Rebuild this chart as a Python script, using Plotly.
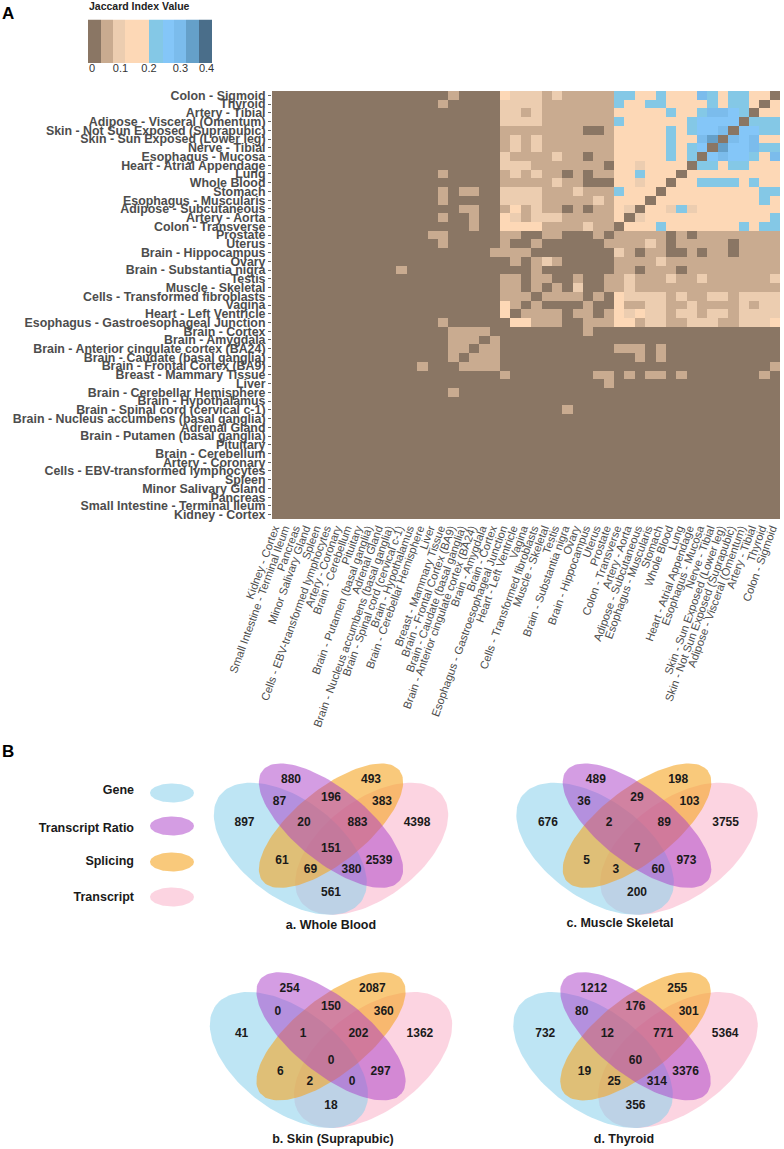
import numpy as np
import plotly.graph_objects as go

W, H = 784, 1149
FONT = "Liberation Sans"

TISSUES = [
    "Colon - Sigmoid", "Thyroid", "Artery - Tibial", "Adipose - Visceral (Omentum)",
    "Skin - Not Sun Exposed (Suprapubic)", "Skin - Sun Exposed (Lower leg)", "Nerve - Tibial",
    "Esophagus - Mucosa", "Heart - Atrial Appendage", "Lung", "Whole Blood", "Stomach",
    "Esophagus - Muscularis", "Adipose - Subcutaneous", "Artery - Aorta", "Colon - Transverse",
    "Prostate", "Uterus", "Brain - Hippocampus", "Ovary", "Brain - Substantia nigra", "Testis",
    "Muscle - Skeletal", "Cells - Transformed fibroblasts", "Vagina", "Heart - Left Ventricle",
    "Esophagus - Gastroesophageal Junction", "Brain - Cortex", "Brain - Amygdala",
    "Brain - Anterior cingulate cortex (BA24)", "Brain - Caudate (basal ganglia)",
    "Brain - Frontal Cortex (BA9)", "Breast - Mammary Tissue", "Liver",
    "Brain - Cerebellar Hemisphere", "Brain - Hypothalamus", "Brain - Spinal cord (cervical c-1)",
    "Brain - Nucleus accumbens (basal ganglia)", "Adrenal Gland", "Brain - Putamen (basal ganglia)",
    "Pituitary", "Brain - Cerebellum", "Artery - Coronary", "Cells - EBV-transformed lymphocytes",
    "Spleen", "Minor Salivary Gland", "Pancreas", "Small Intestine - Terminal Ileum", "Kidney - Cortex",
]

# jaccard bin of each cell, top row first, left column = Kidney - Cortex
Z0 = "000000000000"
JACCARD_ROWS = [
    Z0 + "0000010000 32221211111 4433433364344330",
    Z0 + "0000100000 22221111111 4334433334344303",
    Z0 + "0000000000 22121111111 3333343346654033",
    Z0 + "0000000000 22221111111 4333333455550444",
    Z0 + "0000000000 11111111001 3333343455605544",
    Z0 + "0000000000 12121111111 3333343367065633",
    Z0 + "0000000000 12121111111 3333343450755644",
    Z0 + "0000000000 21111211011 3333343405655436",
    Z0 + "0000000000 22211111110 3323333044344333",
    Z0 + "0000100000 12121101011 3343330333333333",
    Z0 + "0000000000 11111211000 3323303344443433",
    Z0 + "0000101100 22221112111 4333033333333344",
    Z0 + "0000100000 22221111121 3330333333333343",
    Z0 + "0000001100 13121101011 3203324233333333",
    Z0 + "0000100100 32122211111 3023333333333334",
    Z0 + "0000000100 33331111211 0333433333334344",
    Z0 + "0001100000 11001100010 1111101011111111",
    Z0 + "0000100000 10010000001 1112101111101111",
    Z0 + "0000000001 11100000000 2101100101101111",
    Z0 + "0000000000 01012100000 1111211111111111",
    Z0 + "1000000000 00010000000 1101110111111111",
    Z0 + "0000000000 11011001001 1211121121111112",
    Z0 + "0000000000 11010102001 1211111111111111",
    Z0 + "0000000000 11101111010 3222212112212222",
    Z0 + "0000000000 31010000100 3112211211112122",
    Z0 + "0000000000 30111101101 3232212212212222",
    Z0 + "0000100000 03311100111 3312211222112223",
    Z0 + "0000011110 00000000100 0000000000000000",
    Z0 + "0000011101 00000000000 0000000000000000",
    Z0 + "0000011011 00000000000 1110100000000000",
    Z0 + "0000010111 00000000000 0010100000000000",
    Z0 + "0010001111 00000000000 0000000000000001",
    Z0 + "0000000000 10000000011 0101101000000010",
    Z0 + "0000000000 00000000001 0000000000000000",
    Z0 + "0000010000 00000000000 0000000000000000",
    Z0 + "0000000000 00000000000 0000000000000000",
    Z0 + "0000000000 00000010000 0000000000000000",
] + [Z0 + "0000000000 00000000000 0000000000000000"] * 12

BIN_COLORS = ["#8a7664", "#c9ab90", "#eccdb0", "#fdd8b6", "#84c8e6",
              "#84c6f8", "#7bbcec", "#65a0c9", "#4a6e8a"]
BIN_EDGES = [-0.014, 0.0305, 0.0726, 0.1147, 0.201, 0.248, 0.288, 0.33, 0.375, 0.421]
LEGEND_TICK_POS = [0, 0.1, 0.2, 0.31, 0.402]
LEGEND_TICK_TEXT = ["0", "0.1", "0.2", "0.3", "0.4"]

SET_NAMES = ["Gene", "Transcript Ratio", "Splicing", "Transcript"]
SET_COLORS = ["rgba(137,207,235,0.55)", "rgba(170,60,200,0.5)",
              "rgba(245,165,35,0.6)", "rgba(250,170,195,0.5)"]

# counts by region, same order as REGION_DX / REGION_DY
COUNTS_WHOLE_BLOOD = [880, 493, 87, 196, 383, 897, 20, 883, 4398, 151, 61, 2539, 69, 380, 561]
COUNTS_MUSCLE = [489, 198, 36, 29, 103, 676, 2, 89, 3755, 7, 5, 973, 3, 60, 200]
COUNTS_SKIN = [254, 2087, 0, 150, 360, 41, 1, 202, 1362, 0, 6, 297, 2, 0, 18]
COUNTS_THYROID = [1212, 255, 80, 176, 301, 732, 12, 771, 5364, 60, 19, 3376, 25, 314, 356]

# label offsets inside a venn, in px from its centre
REGION_DX = [-40, 40, -51.5, 0, 51, -86.5, -27, 26.5, 86, 0, -49, 48, -20.5, 20.5, 0]
REGION_DY = [-69, -69, -46.5, -51, -46.5, -25.5, -25.5, -25.5, -25.5, 0.5, 12, 12, 21, 21, 44.5]


def ellipse(cx, cy, a, b, angle):
    t = np.radians(np.arange(0, 361, 3))
    th = np.radians(angle)
    x = cx + a * np.cos(t) * np.cos(th) - b * np.sin(t) * np.sin(th)
    y = cy + a * np.cos(t) * np.sin(th) + b * np.sin(t) * np.cos(th)
    return x, y


def add_blob(fig, x, y, color):
    fig.add_trace(go.Scatter(x=x, y=y, mode="lines", fill="toself", fillcolor=color,
                             line=dict(width=0), xaxis="x3", yaxis="y3",
                             showlegend=False, hoverinfo="skip"))


def add_text(fig, x, y, text, size, color="#1a1a1a", pos="middle center"):
    fig.add_trace(go.Scatter(x=x, y=y, text=text, mode="text", textposition=pos,
                             textfont=dict(family=FONT, size=size, color=color, weight="bold"),
                             xaxis="x3", yaxis="y3", showlegend=False, hoverinfo="skip"))


def add_venn(fig, cx, cy, sx, sy, counts, title, title_x, title_y):
    # outer pair (gene, transcript) sits lower, inner pair (ratio, splicing) higher
    sets = [(-40.7, 0, 88.4, 49, 37), (0, -23, 88, 36.5, 39),
            (0, -23, 88, 36.5, -39), (40.7, 0, 88.4, 49, -37)]
    # stacking: transcript at the bottom, ratio on top
    for i in [3, 0, 2, 1]:
        dx, dy, a, b, ang = sets[i]
        x, y = ellipse(0, 0, a, b, ang)
        add_blob(fig, cx + (x + dx) * sx, cy + (y + dy) * sy, SET_COLORS[i])
    add_text(fig, [cx + d * sx for d in REGION_DX], [cy + d * sy for d in REGION_DY],
             [str(c) for c in counts], 12)
    add_text(fig, [title_x], [title_y], [title], 12.5)


heat_z = [[int(ch) for ch in row.replace(" ", "")] for row in JACCARD_ROWS]
n_bins = len(BIN_COLORS)
scale = []
for i, c in enumerate(BIN_COLORS):
    scale += [[i / n_bins, c], [(i + 1) / n_bins, c]]

fig = go.Figure()
fig.add_trace(go.Heatmap(z=heat_z, x=TISSUES[::-1], y=TISSUES, colorscale=scale, zmin=0, zmax=n_bins,
                         showscale=False, xaxis="x", yaxis="y", hoverinfo="skip"))
fig.add_trace(go.Heatmap(z=[list(range(n_bins))], x=BIN_EDGES, y=[0, 1], colorscale=scale, zmin=0, zmax=n_bins,
                         showscale=False, xaxis="x2", yaxis="y2", hoverinfo="skip"))

# legend of set colours
LEG_Y = [793, 826, 862, 897]
LEG_TEXT_Y = [791, 829, 862, 898]
for y0, color in zip(LEG_Y, SET_COLORS):
    x, y = ellipse(172, y0, 22, 9.5, 0)
    add_blob(fig, x, y, color)
add_text(fig, [134] * 4, LEG_TEXT_Y, SET_NAMES, 12.5, pos="middle left")

add_venn(fig, 331, 848.7, 1, 1, COUNTS_WHOLE_BLOOD, "a. Whole Blood", 331, 926)
add_venn(fig, 637, 848.7, 1.03, 1.0, COUNTS_MUSCLE, "c. Muscle Skeletal", 620, 924)
add_venn(fig, 331, 1060, 1.034, 1.03, COUNTS_SKIN, "b. Skin (Suprapubic)", 333, 1140)
add_venn(fig, 635.5, 1060, 1.043, 1.03, COUNTS_THYROID, "d. Thyroid", 624, 1140)

add_text(fig, [2], [15], ["A"], 17, "#000000", "middle right")
add_text(fig, [2], [753], ["B"], 17, "#000000", "middle right")
add_text(fig, [89], [7], ["Jaccard Index Value"], 10.5, "#222222", "middle right")

fig.update_layout(
    template=None, width=W, height=H, margin=dict(l=0, r=0, t=0, b=0),
    paper_bgcolor="white", plot_bgcolor="rgba(0,0,0,0)", showlegend=False,
    font=dict(family=FONT),
    xaxis=dict(domain=[272 / W, 780 / W], type="category", side="bottom", tickangle=-70, automargin=False,
               tickmode="array", tickvals=TISSUES[::-1], ticktext=TISSUES[::-1], showgrid=False, zeroline=False,
               ticklabelshift=-3,
               ticks="", tickfont=dict(size=11.2, color="#4d4d4d", family=FONT), anchor="y"),
    yaxis=dict(domain=[1 - 519 / H, 1 - 91 / H], type="category", autorange="reversed", automargin=False,
               tickmode="array", tickvals=TISSUES, ticktext=TISSUES, showgrid=False, zeroline=False,
               ticks="outside", ticklen=3, tickwidth=1, tickcolor="#666666",
               tickfont=dict(size=12.4, color="#4d4d4d", family=FONT, weight="bold"), anchor="x"),
    xaxis2=dict(domain=[88 / W, 212 / W], range=[BIN_EDGES[0], BIN_EDGES[-1]], tickmode="array",
                automargin=False, zeroline=False, ticklabelstandoff=-3,
                tickvals=LEGEND_TICK_POS, ticktext=LEGEND_TICK_TEXT, ticks="", showgrid=False,
                tickfont=dict(size=11, color="#333333", family=FONT), anchor="y2", ticklen=0),
    yaxis2=dict(domain=[1 - 63 / H, 1 - 19.5 / H], range=[0, 1], visible=False, anchor="x2"),
    xaxis3=dict(domain=[0, 1], range=[0, W], visible=False, anchor="y3", fixedrange=True),
    yaxis3=dict(domain=[0, 1], range=[H, 0], visible=False, anchor="x3", fixedrange=True),
)

# the page's default body margin would push the figure 8px off the window
fig.write_html("out.html", config={"displayModeBar": False},
               post_script="document.body.style.margin='0'")
